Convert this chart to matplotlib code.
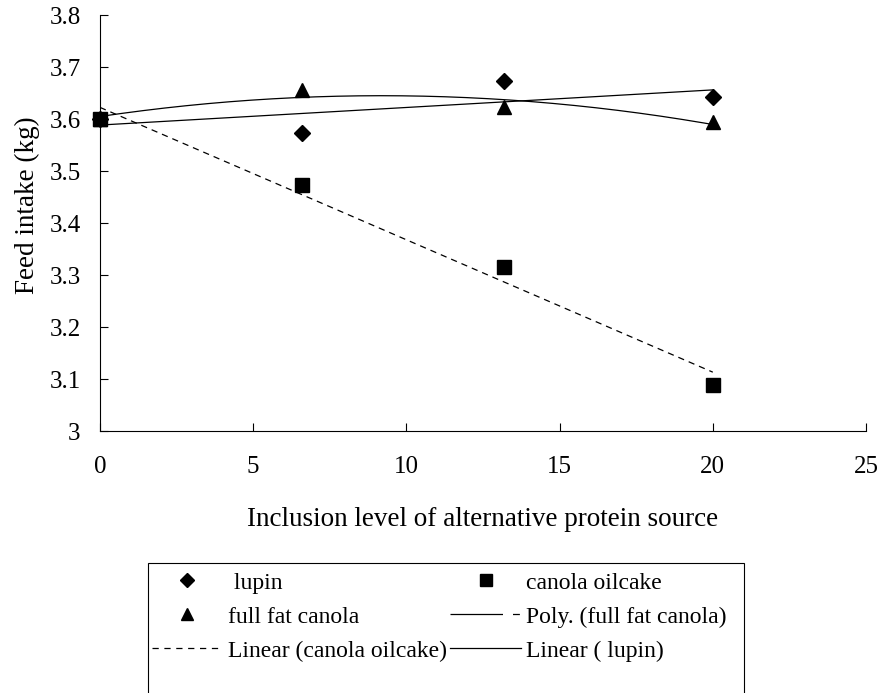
import numpy as np
import matplotlib.pyplot as plt
from matplotlib.lines import Line2D
from matplotlib.patches import Rectangle

plt.rcParams['font.family'] = ['Liberation Serif', 'DejaVu Serif']
plt.rcParams['font.size'] = 18

# inclusion levels and feed intake (kg) per protein source
levels = [0, 6.6, 13.2, 20]
lupin = [3.600, 3.573, 3.673, 3.642]
canola_oilcake = [3.600, 3.473, 3.315, 3.088]
full_fat_canola = [3.600, 3.656, 3.623, 3.594]

W, H = 880, 693
fig = plt.figure(figsize=(W / 100, H / 100), dpi=100)
ax = fig.add_axes([100 / W, 1 - 431 / H, 766 / W, 416 / H])

x = np.array(levels)
xs = np.linspace(0, 20, 200)

# trendlines fitted to each series
poly_ffc = np.polyfit(x, full_fat_canola, 2)
lin_oil = np.polyfit(x, canola_oilcake, 1)
lin_lup = np.polyfit(x, lupin, 1)
ax.plot(xs, np.polyval(poly_ffc, xs), color='black', lw=0.9)
ax.plot(xs, np.polyval(lin_oil, xs), color='black', lw=0.9, dashes=(5, 4))
ax.plot(xs, np.polyval(lin_lup, xs), color='black', lw=0.9)

ax.plot(x, lupin, 'D', color='black', ms=8.5, ls='none', clip_on=False)
ax.plot(x, canola_oilcake, 's', color='black', ms=10, ls='none', clip_on=False)
ax.plot(x, full_fat_canola, '^', color='black', ms=10, ls='none', clip_on=False)

ax.set_xlim(0, 25)
ax.set_ylim(3, 3.8)
ax.set_xticks([0, 5, 10, 15, 20, 25])
ax.set_yticks([3, 3.1, 3.2, 3.3, 3.4, 3.5, 3.6, 3.7, 3.8])
ax.set_yticklabels(['3', '3.1', '3.2', '3.3', '3.4', '3.5', '3.6', '3.7', '3.8'])
ax.tick_params(axis='both', direction='in', length=6, width=0.8, labelsize=18)
ax.tick_params(axis='x', pad=18)
ax.tick_params(axis='y', pad=14)
ax.spines['top'].set_visible(False)
ax.spines['right'].set_visible(False)
ax.set_xlabel('Inclusion level of alternative protein source', fontsize=19.5, labelpad=21)
ax.set_ylabel('Feed intake (kg)', fontsize=19.5)
ax.yaxis.set_label_coords(-0.078, 0.543)

# legend box, open at the bottom edge of the figure
fig.patches.append(Rectangle((148 / W, -0.05), (744 - 148) / W, 0.05 + 1 - 563 / H,
                             transform=fig.transFigure, fill=False,
                             edgecolor='black', lw=0.8))

handles = [
    Line2D([], [], marker='D', color='black', ms=7, ls='none'),
    Line2D([], [], marker='^', color='black', ms=9, ls='none'),
    Line2D([], [], color='black', lw=0.9, dashes=(5, 4.5)),
    Line2D([], [], marker='s', color='black', ms=9, ls='none'),
    Line2D([], [], color='black', lw=0.9, dashes=(42, 8, 5.5, 100)),
    Line2D([], [], color='black', lw=0.9),
]
labels = [' lupin', 'full fat canola', 'Linear (canola oilcake)',
          'canola oilcake', 'Poly. (full fat canola)', 'Linear ( lupin)']
fig.legend(handles, labels, ncol=2, loc='upper left',
           bbox_to_anchor=(152 / W, 1 - 572 / H),
           frameon=False, handlelength=3.0, handletextpad=0.2,
           labelspacing=0.53, borderpad=0, borderaxespad=0,
           columnspacing=0.15, fontsize=17)

fig.savefig('out.png', dpi=100)
